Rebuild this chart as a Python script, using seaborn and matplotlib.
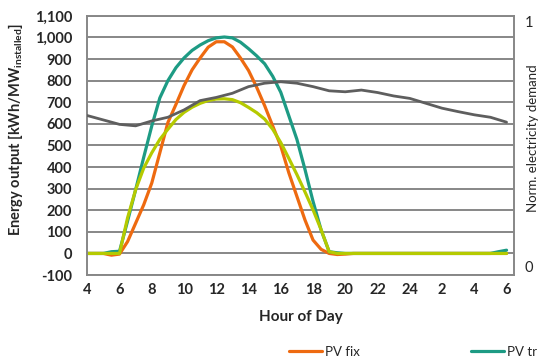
import numpy as np
import pandas as pd
import matplotlib
matplotlib.use("Agg")
import matplotlib.pyplot as plt
from matplotlib.ticker import FuncFormatter, MultipleLocator
import seaborn as sns

# hours of day, 4:00 to 6:00 next day
hours_half = np.arange(4, 30.5, 0.5)
hours_full = np.arange(4, 31, 1)

# energy output [kWh/MW installed], half-hourly
pv_fix = [0, 0, 0, -8, -3, 55, 140, 225, 326, 466, 606, 690, 777, 850, 905, 955,
          980, 980, 956, 905, 847, 770, 684, 590, 497, 373, 264, 155, 62, 19, 0, -5,
          -3, 0, 0, 0, 0, 0, 0, 0, 0, 0, 0, 0, 0, 0, 0, 0, 0, 0, 0, 0, 0]
pv_tr = [0, 0, 0, 8, 10, 150, 295, 445, 590, 720, 800, 860, 905, 940, 965, 985,
         998, 1002, 998, 978, 948, 915, 878, 820, 746, 637, 528, 389, 241, 109, 8, 3,
         0, 0, 0, 0, 0, 0, 0, 0, 0, 0, 0, 0, 0, 0, 0, 0, 0, 0, 0, 8, 15]
pv_ew = [0, 0, 0, 0, 0, 165, 295, 395, 466, 528, 575, 620, 653, 677, 695, 708,
         715, 716, 712, 698, 676, 652, 622, 575, 513, 440, 365, 285, 202, 110, 8, 0,
         0, 0, 0, 0, 0, 0, 0, 0, 0, 0, 0, 0, 0, 0, 0, 0, 0, 0, 0, 0, 0]

# normalised electricity demand, hourly
demand = [0.618, 0.600, 0.582, 0.576, 0.596, 0.611, 0.641, 0.679, 0.692, 0.709,
          0.736, 0.750, 0.756, 0.750, 0.736, 0.719, 0.715, 0.722, 0.712, 0.698,
          0.688, 0.668, 0.648, 0.634, 0.621, 0.611, 0.591]

x_ticks = np.arange(4, 31, 2)
x_labels = [str(h if h <= 24 else h - 24) for h in x_ticks]

sns.set_style("white")
plt.rcParams['font.family'] = ['Lato', 'DejaVu Sans']
plt.rcParams['mathtext.fontset'] = 'custom'
plt.rcParams['mathtext.rm'] = 'Lato'
plt.rcParams['mathtext.bf'] = 'Lato:bold'

grey = '#878787'
c_fix, c_tr, c_ew, c_dem = '#EE6A10', '#1D9B84', '#B5CA00', '#5E5E5E'

fig = plt.figure(figsize=(5.42, 3.6), dpi=100)
ax = fig.add_axes([0.161, 0.236, 0.787, 0.720])

df = pd.DataFrame({'hour': hours_half, 'fix': pv_fix, 'tr': pv_tr, 'ew': pv_ew})
sns.lineplot(data=df, x='hour', y='fix', ax=ax, color=c_fix, lw=2.3, label='PV fix')
sns.lineplot(data=df, x='hour', y='tr', ax=ax, color=c_tr, lw=2.3, label='PV tr')
sns.lineplot(data=df, x='hour', y='ew', ax=ax, color=c_ew, lw=2.3, label='PV ew')
if ax.get_legend():
    ax.get_legend().remove()

ax.set_xlim(4, 30.45)
ax.set_ylim(-100, 1100)
ax.yaxis.set_major_locator(MultipleLocator(100))
ax.yaxis.set_major_formatter(FuncFormatter(lambda v, p: f"{int(round(v)):,}"))
ax.set_xticks(x_ticks)
ax.set_xticklabels(x_labels)
ax.xaxis.set_minor_locator(MultipleLocator(1))
ax.grid(axis='y', color=grey, lw=1.4)
ax.set_axisbelow(True)
for s in ax.spines.values():
    s.set_color(grey)
    s.set_linewidth(1.4)
ax.tick_params(axis='x', which='both', direction='in', length=3.5, width=1.2,
               color=grey, pad=6, labelsize=10.5)
ax.tick_params(axis='y', length=0, pad=11, labelsize=10.5)
for t in ax.get_xticklabels() + ax.get_yticklabels():
    t.set_fontweight('bold')

ax.set_xlabel('Hour of Day', fontsize=11, fontweight='bold')
ax.xaxis.set_label_coords(0.5, -0.135)
ax.set_ylabel(r'Energy output [kWh/MW$_{\mathregular{installed}}$]', fontsize=10.5,
              fontweight='bold')
ax.yaxis.set_label_coords(-0.145, 0.56)

ax2 = ax.twinx()
sns.lineplot(x=hours_full, y=demand, ax=ax2, color=c_dem, lw=2.0)
ax2.set_ylim(-0.033, 1.025)
ax2.set_yticks([0, 1])
ax2.set_yticklabels(['0', '1'])
ax2.tick_params(axis='y', length=0, pad=8, labelsize=10.5)
ax2.set_ylabel('Norm. electricity demand', fontsize=9.5)
ax2.yaxis.set_label_coords(1.031, 0.527)
for s in ax2.spines.values():
    s.set_visible(False)

handles = [plt.Line2D([], [], color=c_fix, lw=2.3),
           plt.Line2D([], [], color=c_tr, lw=2.3)]
fig.legend(handles, ['PV fix', 'PV tr'], ncol=2, frameon=False,
           loc='center left', bbox_to_anchor=(282 / 542, 1 - 352 / 360),
           borderpad=0, handlelength=2.5, handletextpad=0.25, columnspacing=8.4,
           fontsize=9.5)

fig.savefig('out.png', dpi=100)
